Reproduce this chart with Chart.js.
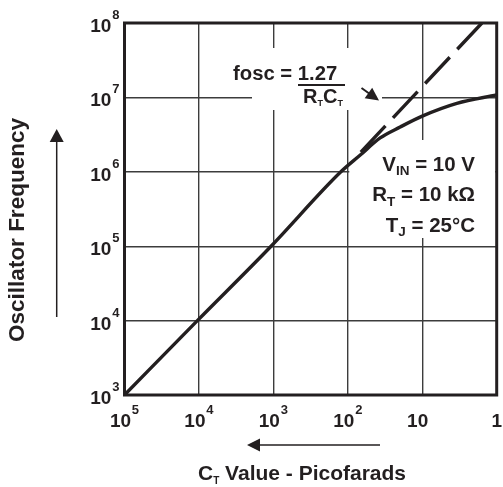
<!DOCTYPE html>
<html>
<head>
<meta charset="utf-8">
<script src="https://cdn.jsdelivr.net/npm/chart.js@4/dist/chart.umd.min.js"></script>
<style>
  body { margin: 0; background: #fff; }
  #osc { display: block; }
</style>
</head>
<body>
<canvas id="osc" width="503" height="487"></canvas>
<script>
// measured curve, CT (pF) vs oscillator frequency (Hz)
const ctValues = [1e5, 1.05e4, 1074, 124, 68, 36.8, 19.8, 10, 3.43, 1];
const freqValues = [1e3, 1e4, 1e5, 1e6, 1.68e6, 2.85e6, 4.0e6, 5.6e6, 8.3e6, 1.08e7];

// ideal fosc = 1.27 / (RT CT), dashed
const idealCt = [1.58, 80];
const idealFreq = [1e8, 1.52e6];

// axis ticks
const xTicks = [1e5, 1e4, 1e3, 1e2, 10, 1];
const xTickBase = ['10', '10', '10', '10', '10', '1'];
const xTickExp = ['5', '4', '3', '2', '', ''];
const yTicks = [1e3, 1e4, 1e5, 1e6, 1e7, 1e8];
const yTickExp = ['3', '4', '5', '6', '7', '8'];

const ink = '#231f20';
const FONT = '"Liberation Sans", Arial, sans-serif';

function bold(size) {
    return 'bold ' + size + 'px ' + FONT;
}

// draws a list of [text, size, dy] pieces on one baseline
function drawRich(ctx, parts, x, y, align) {
    var total = 0;
    parts.forEach(function (p) {
        ctx.font = bold(p[1]);
        total += ctx.measureText(p[0]).width;
    });
    var cx = x;
    if (align === 'right') cx = x - total;
    if (align === 'center') cx = x - total / 2;
    ctx.textAlign = 'left';
    ctx.textBaseline = 'alphabetic';
    parts.forEach(function (p) {
        ctx.font = bold(p[1]);
        ctx.fillText(p[0], cx, y + (p[2] || 0));
        cx += ctx.measureText(p[0]).width;
    });
}

function arrowHead(ctx, x1, y1, x2, y2, len, half) {
    var a = Math.atan2(y2 - y1, x2 - x1);
    ctx.beginPath();
    ctx.moveTo(x2, y2);
    ctx.lineTo(x2 - len * Math.cos(a) + half * Math.sin(a), y2 - len * Math.sin(a) - half * Math.cos(a));
    ctx.lineTo(x2 - len * Math.cos(a) - half * Math.sin(a), y2 - len * Math.sin(a) + half * Math.cos(a));
    ctx.closePath();
    ctx.fill();
}

function arrow(ctx, x1, y1, x2, y2, len, half) {
    var a = Math.atan2(y2 - y1, x2 - x1);
    ctx.beginPath();
    ctx.moveTo(x1, y1);
    ctx.lineTo(x2 - len * 0.6 * Math.cos(a), y2 - len * 0.6 * Math.sin(a));
    ctx.stroke();
    arrowHead(ctx, x1, y1, x2, y2, len, half);
}

// white patches that break the grid behind the text blocks
const gridGaps = {
    id: 'gridGaps',
    beforeDatasetsDraw(chart) {
        var ctx = chart.ctx;
        ctx.save();
        ctx.fillStyle = '#fff';
        ctx.fillRect(252, 48, 130, 62);
        ctx.fillRect(349.3, 140, 146, 98);
        ctx.restore();
    }
};

const decorations = {
    id: 'decorations',
    afterDraw(chart) {
        var ctx = chart.ctx;
        var area = chart.chartArea;
        var xs = chart.scales.x;
        var ys = chart.scales.y;
        ctx.save();
        ctx.fillStyle = ink;
        ctx.strokeStyle = ink;

        // plot frame
        ctx.lineWidth = 3;
        ctx.strokeRect(area.left, area.top, area.right - area.left, area.bottom - area.top);

        // x tick labels
        ctx.font = bold(13);
        var expW = ctx.measureText('0').width + 2;
        xTicks.forEach(function (v, i) {
            var px = xs.getPixelForValue(v);
            var parts = [[xTickBase[i], 19, 0]];
            if (xTickExp[i]) {
                parts.push([' ', 3, 0]);
                parts.push([xTickExp[i], 13, -13]);
                drawRich(ctx, parts, px, area.bottom + 32, 'center');
            } else if (xTickBase[i].length > 1) {
                drawRich(ctx, parts, px - expW / 2, area.bottom + 32, 'center');
            } else {
                drawRich(ctx, parts, px, area.bottom + 32, 'center');
            }
        });

        // y tick labels
        yTicks.forEach(function (v, i) {
            var py = ys.getPixelForValue(v);
            drawRich(ctx, [['10', 19, 0], [' ', 3, 0], [yTickExp[i], 13, -13]], area.left - 5, py + 9, 'right');
        });

        // axis titles
        drawRich(ctx, [['C', 21, 0], ['T', 10, 4], [' Value - Picofarads', 21, 0]], 302, 480, 'center');
        ctx.save();
        ctx.translate(24, 230);
        ctx.rotate(-Math.PI / 2);
        drawRich(ctx, [['Oscillator Frequency', 22.5, 0]], 0, 0, 'center');
        ctx.restore();

        // direction arrows
        ctx.lineWidth = 1.5;
        arrow(ctx, 56.7, 317, 56.7, 129, 13, 7);
        arrow(ctx, 380, 445, 247, 445, 13, 6.5);

        // formula
        drawRich(ctx, [['fosc = 1.27', 20.3, 0]], 233, 80, 'left');
        ctx.fillRect(298, 84, 47, 2);
        drawRich(ctx, [['R', 20, 0], ['T', 9, 3], ['C', 20, 0], ['T', 9, 3]], 323, 103.3, 'center');
        ctx.lineWidth = 2;
        arrow(ctx, 361.5, 88, 379, 100.5, 13, 6.5);

        // conditions
        drawRich(ctx, [['V', 20.5, 0], ['IN', 13.5, 4.5], [' = 10 V', 20.5, 0]], 475, 170.7, 'right');
        drawRich(ctx, [['R', 20.5, 0], ['T', 13.5, 4.5], [' = 10 k\u03A9', 20.5, 0]], 475, 201, 'right');
        drawRich(ctx, [['T', 20.5, 0], ['J', 13.5, 4.5], [' = 25\u00B0C', 20.5, 0]], 475, 231.7, 'right');

        ctx.restore();
    }
};

const gridStyle = { color: '#3c3c3c', lineWidth: 1.4, drawTicks: false };

new Chart(document.getElementById('osc'), {
    type: 'line',
    data: {
        datasets: [{
            data: ctValues.map(function (c, i) { return { x: c, y: freqValues[i] }; }),
            borderColor: ink,
            borderWidth: 3.4,
            pointRadius: 0,
            cubicInterpolationMode: 'monotone',
            fill: false
        }, {
            data: idealCt.map(function (c, i) { return { x: c, y: idealFreq[i] }; }),
            borderColor: ink,
            borderWidth: 3.4,
            borderDash: [36, 11],
            pointRadius: 0,
            fill: false
        }]
    },
    options: {
        responsive: false,
        animation: false,
        devicePixelRatio: 1,
        layout: { padding: { left: 124.5, right: 6.3, top: 23, bottom: 92 } },
        plugins: { legend: { display: false }, tooltip: { enabled: false } },
        scales: {
            x: {
                type: 'logarithmic',
                reverse: true,
                min: 1,
                max: 1e5,
                ticks: { display: false },
                grid: gridStyle,
                border: { display: false },
                afterBuildTicks: function (s) { s.ticks = xTicks.map(function (v) { return { value: v }; }); }
            },
            y: {
                type: 'logarithmic',
                min: 1e3,
                max: 1e8,
                ticks: { display: false },
                grid: gridStyle,
                border: { display: false },
                afterBuildTicks: function (s) { s.ticks = yTicks.map(function (v) { return { value: v }; }); }
            }
        }
    },
    plugins: [gridGaps, decorations]
});
</script>
</body>
</html>
